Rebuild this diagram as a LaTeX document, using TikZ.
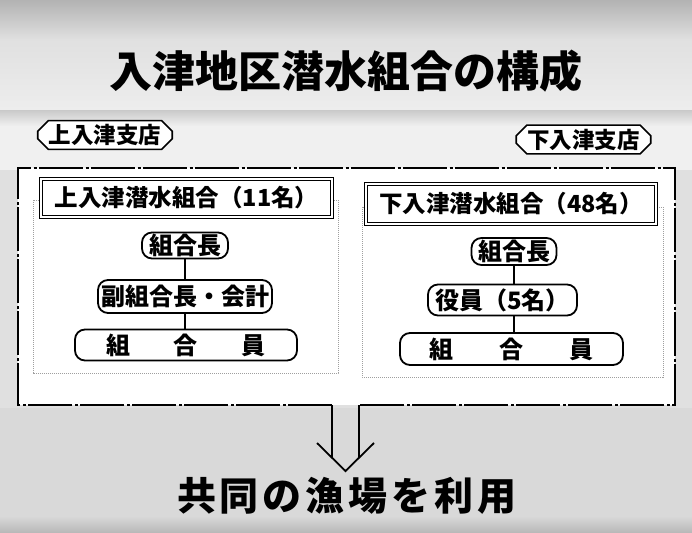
\documentclass[tikz,border=0pt]{standalone}
\usepackage{fontspec}
\setmainfont{Noto Sans CJK JP}
\usetikzlibrary{shapes.misc}
\tikzset{
  fs/.style={font=\fontsize{#1}{#1}\selectfont\bfseries},
  framecol/.style={line width=2.8pt, dash pattern=on 44pt off 2.5pt on 3pt off 2.5pt},
  branch/.style={chamfered rectangle, chamfered rectangle xsep=7pt, draw, line width=1.6pt,
    fill=white, fs=22.5pt, inner xsep=4pt, inner ysep=0pt, minimum height=25pt},
  header/.style={draw, line width=1.3pt, double=white, double distance=1.4pt, fill=white,
    fs=23.5pt, inner sep=0pt},
  orgbox/.style={draw, line width=1.8pt, rounded corners=10pt, fill=white, fs=24pt, inner sep=0pt},
  unitbox/.style={draw=gray!75, line width=0.7pt, dash pattern=on 1.2pt off 0.8pt},
  link/.style={line width=1.3pt},
  arrowline/.style={line width=1.8pt}
}
\begin{document}
\begin{tikzpicture}[x=1pt,y=-1pt]
\useasboundingbox (0,0) rectangle (692,532);
% background
\fill[gray!24] (0,0) rectangle (692,532);
\shade[top color=gray!60, bottom color=gray!24] (0,0) rectangle (692,40);
\shade[top color=gray!24, bottom color=gray!14] (0,40) rectangle (692,110);
\fill[gray!12] (0,110) rectangle (692,170);
\shade[top color=gray!42, bottom color=gray!12] (0,110) rectangle (692,126);
\fill[gray!30] (0,408) rectangle (692,532);
\shade[top color=gray!30, bottom color=gray!55] (0,516) rectangle (692,532);
% frame interior
\fill[white] (18,168) rectangle (675,405);
% title
\node[fs=43pt] (title) at (346,71) {入津地区潜水組合の構成};
% frame
\coordinate (fTL) at (18,168);
\coordinate (fTR) at (675,168);
\coordinate (fBR) at (675,405);
\coordinate (fBL) at (18,405);
\coordinate (sL) at (332,405);
\coordinate (sR) at (359,405);
\draw[framecol] (sL) -- (fBL) -- (fTL) -- (fTR) -- (fBR) -- (sR);
% arrow
\coordinate (aL) at (317,443);
\coordinate (aT) at (345.5,471);
\coordinate (aR) at (374,443);
\draw[arrowline] (sL) -- (332,457.5);
\draw[arrowline] (sR) -- (359,457.5);
\draw[arrowline, line join=miter] (aL) -- (aT) -- (aR);
% branch labels
\node[branch] (b1) at (105,135) {上入津支店};
\node[branch] (b2) at (583.5,139.5) {下入津支店};
% unit boxes
\draw[unitbox] (33,200) rectangle (338,373);
\draw[unitbox] (362,207) rectangle (663,377);
% headers
\node[header, minimum width=291pt, minimum height=38pt] (h1) at (186.5,198) {上入津潜水組合（11名）};
\node[header, minimum width=290pt, minimum height=40pt] (h2) at (511,204) {下入津潜水組合（48名）};
% left org
\node[orgbox, minimum width=86pt, minimum height=26pt] (l1) at (185,245.5) {組合長};
\node[orgbox, minimum width=174pt, minimum height=33pt] (l2) at (185,296.5) {副組合長・会計};
\node[orgbox, minimum width=222pt, minimum height=31pt] (l3) at (186,345) {組\hspace{44pt}合\hspace{44pt}員};
\draw[link] (l1.south) -- (l2.north);
\draw[link] (l2.south) -- (l3.north -| l2.south);
% right org
\node[orgbox, minimum width=85pt, minimum height=27pt] (r1) at (514,251.5) {組合長};
\node[orgbox, minimum width=149pt, minimum height=31pt] (r2) at (502.5,300) {役員（5名）};
\node[orgbox, minimum width=223pt, minimum height=32pt] (r3) at (511.5,349) {組\hspace{46pt}合\hspace{46pt}員};
\draw[link] (r1.south) -- (r1.south |- r2.north);
\draw[link] (r1.south |- r2.south) -- (r1.south |- r3.north);
% bottom text
\node[fs=39pt] (res) at (347,496) {共\hspace{4pt}同\hspace{4pt}の\hspace{4pt}漁\hspace{4pt}場\hspace{4pt}を\hspace{4pt}利\hspace{4pt}用};
\end{tikzpicture}
\end{document}
